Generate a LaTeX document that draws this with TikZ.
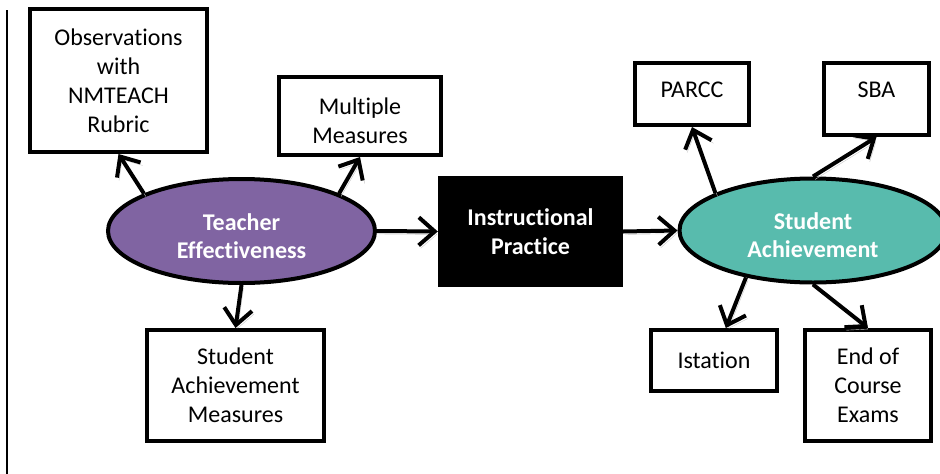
\documentclass[tikz,border=0pt]{standalone}
\usepackage{fontspec}
\setmainfont{Carlito}[Ligatures=NoCommon]
\usepackage{xcolor}
\usetikzlibrary{arrows.meta,shapes.geometric}

\definecolor{tePurple}{RGB}{128,100,162}
\definecolor{saTeal}{RGB}{88,187,173}

\begin{document}
\begin{tikzpicture}[
  x=1pt,y=-1pt,
  font=\fontsize{24}{29}\selectfont,
  box/.style={draw=black,line width=4pt,fill=white,inner sep=0pt,align=center},
  oval/.style={ellipse,draw=black,line width=4pt,inner sep=0pt,text height=55pt,
    minimum width=267pt,minimum height=104pt,align=center,text=white,
    font=\bfseries\fontsize{24}{28}\selectfont},
  flow/.style={-{Straight Barb[length=16pt,width=28pt]},line width=4pt,
    preaction={draw=black!22,transform canvas={shift={(2pt,-3pt)}}}}
]
\path[use as bounding box] (0,0) rectangle (940,474);
\draw[line width=2pt] (7,10) -- (7,474);
% teacher side
\node[oval,fill=tePurple] (teach) at (241.5,231) {Teacher\\Effectiveness};
\node[box,minimum width=177pt,minimum height=143pt] (obs) at (118.5,80.5) {Observations\\with\\NMTEACH\\Rubric};
\node[box,minimum width=162pt,minimum height=78pt,text height=55pt] (multi) at (360,116) {Multiple\\Measures};
\node[box,minimum width=177pt,minimum height=111pt] (sam) at (235.5,385.5) {Student\\Achievement\\Measures};
% middle
\node[fill=black,text=white,minimum width=185pt,minimum height=111pt,inner sep=0pt,
  align=center,font=\bfseries\fontsize{24}{29}\selectfont] (instr) at (530.5,231.5) {Instructional\\Practice};
% student side
\node[oval,fill=saTeal] (stud) at (813,230.5) {Student\\Achievement};
\node[box,minimum width=114pt,minimum height=62pt,text depth=8pt] (parcc) at (692,94) {PARCC};
\node[box,minimum width=105pt,minimum height=72pt,text depth=18pt] (sba) at (876.5,99) {SBA};
\node[box,minimum width=126pt,minimum height=61pt] (ist) at (714,360.5) {Istation};
\node[box,minimum width=126pt,minimum height=111pt] (eoc) at (868,385.5) {End of\\Course\\Exams};

\draw[flow] (teach.159) -- (obs.south);
\draw[flow] (teach.21) -- (multi.south);
\draw[flow] (teach.south) -- (sam.north);
\draw[flow] (teach.east) -- (instr.west);
\draw[flow] (instr.east) -- (stud.west);
\draw[flow] (stud.159) -- (parcc.south);
\draw[flow] (stud.north) -- (sba.south);
\draw[flow] (stud.215) -- (ist.70);
\draw[flow] (stud.south) -- (eoc.north);
\end{tikzpicture}
\end{document}
